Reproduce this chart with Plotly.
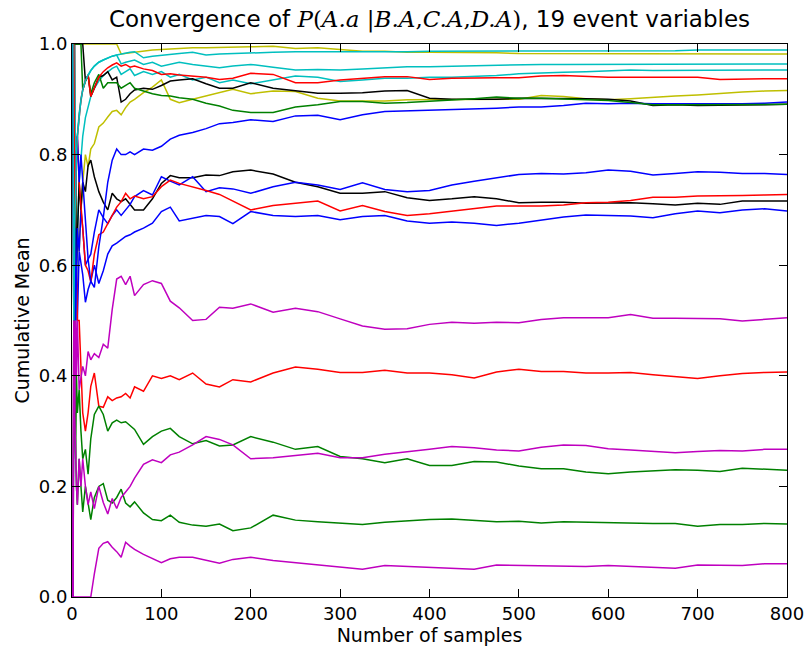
import plotly.graph_objects as go

X_SAMPLES = [1, 2, 3, 4, 5, 6, 8, 10, 12, 15,
             18, 21, 25, 30, 35, 40, 45, 50, 55, 60,
             65, 70, 80, 90, 100, 110, 120, 135, 150, 165,
             180, 200, 225, 250, 275, 300, 325, 350, 375, 400,
             425, 450, 475, 500, 525, 550, 575, 600, 625, 650,
             675, 700, 725, 750, 775, 800]

B1 = [1, 0.5, 0.667, 0.5, 0.6, 0.5, 0.625, 0.6, 0.583, 0.533,
      0.556, 0.571, 0.6, 0.567, 0.59, 0.62, 0.635, 0.64, 0.646, 0.652,
      0.655, 0.66, 0.667, 0.676, 0.697, 0.705, 0.68, 0.685, 0.69, 0.688,
      0.675, 0.697, 0.69, 0.688, 0.69, 0.682, 0.688, 0.69, 0.68, 0.676,
      0.678, 0.676, 0.672, 0.676, 0.682, 0.687, 0.691, 0.69, 0.689, 0.686,
      0.693, 0.698, 0.695, 0.7, 0.702, 0.698]
G1 = [0, 0.5, 0.333, 0.25, 0.2, 0.167, 0.25, 0.2, 0.154, 0.2,
      0.167, 0.14, 0.18, 0.2, 0.205, 0.175, 0.17, 0.18, 0.195, 0.17,
      0.163, 0.172, 0.152, 0.14, 0.138, 0.148, 0.135, 0.13, 0.128, 0.132,
      0.12, 0.125, 0.148, 0.139, 0.136, 0.134, 0.131, 0.135, 0.138, 0.14,
      0.141, 0.138, 0.136, 0.137, 0.134, 0.136, 0.135, 0.135, 0.134, 0.133,
      0.133, 0.128, 0.131, 0.131, 0.133, 0.132]
R1 = [1, 0.5, 0.667, 0.5, 0.6, 0.5, 0.5, 0.4, 0.333, 0.3,
      0.333, 0.381, 0.405, 0.345, 0.343, 0.362, 0.355, 0.36, 0.362, 0.368,
      0.36, 0.38, 0.372, 0.4, 0.395, 0.4, 0.393, 0.405, 0.385, 0.38,
      0.393, 0.389, 0.405, 0.416, 0.412, 0.406, 0.406, 0.41, 0.405, 0.405,
      0.402, 0.396, 0.407, 0.412, 0.408, 0.408, 0.405, 0.405, 0.406, 0.402,
      0.398, 0.395, 0.4, 0.404, 0.406, 0.407]
C1 = [1, 0.5, 0.333, 0.5, 0.6, 0.667, 0.75, 0.8, 0.833, 0.867,
      0.889, 0.905, 0.92, 0.933, 0.943, 0.95, 0.956, 0.96, 0.945, 0.95,
      0.955, 0.943, 0.95, 0.945, 0.95, 0.94, 0.945, 0.935, 0.94, 0.93,
      0.935, 0.928, 0.935, 0.942, 0.94, 0.932, 0.935, 0.938, 0.938, 0.94,
      0.94, 0.941, 0.943, 0.946, 0.948, 0.949, 0.95, 0.952, 0.953, 0.952,
      0.952, 0.952, 0.953, 0.953, 0.953, 0.953]
M1 = [0, 0, 0, 0, 0, 0, 0, 0, 0, 0,
      0, 0, 0.042, 0.088, 0.097, 0.1, 0.09, 0.082, 0.072, 0.099,
      0.092, 0.086, 0.077, 0.069, 0.062, 0.069, 0.072, 0.072, 0.066, 0.061,
      0.068, 0.072, 0.066, 0.062, 0.057, 0.053, 0.05, 0.057, 0.055, 0.053,
      0.052, 0.05, 0.058, 0.057, 0.056, 0.055, 0.055, 0.057, 0.055, 0.053,
      0.052, 0.058, 0.058, 0.057, 0.06, 0.06]
Y1 = [0, 0.5, 0.667, 0.75, 0.6, 0.667, 0.625, 0.7, 0.75, 0.8,
      0.778, 0.81, 0.82, 0.85, 0.857, 0.868, 0.878, 0.88, 0.872, 0.885,
      0.895, 0.9, 0.912, 0.922, 0.935, 0.9, 0.894, 0.9, 0.906, 0.912,
      0.918, 0.91, 0.915, 0.914, 0.902, 0.897, 0.897, 0.897, 0.899, 0.899,
      0.9, 0.9, 0.9, 0.9, 0.907, 0.905, 0.901, 0.899, 0.901, 0.904,
      0.906, 0.908, 0.911, 0.913, 0.915, 0.916]
K1 = [1, 0.5, 0.667, 0.75, 0.6, 0.667, 0.75, 0.7, 0.75, 0.733,
      0.78, 0.79, 0.76, 0.733, 0.714, 0.7, 0.73, 0.72, 0.715, 0.72,
      0.71, 0.7, 0.7, 0.72, 0.748, 0.762, 0.758, 0.758, 0.763, 0.762,
      0.769, 0.772, 0.765, 0.75, 0.742, 0.73, 0.73, 0.733, 0.722, 0.717,
      0.72, 0.724, 0.72, 0.713, 0.714, 0.714, 0.712, 0.713, 0.713, 0.711,
      0.709, 0.712, 0.71, 0.716, 0.716, 0.716]
B2 = [0, 0.5, 0.667, 0.5, 0.6, 0.667, 0.625, 0.7, 0.667, 0.6,
      0.611, 0.62, 0.66, 0.7, 0.686, 0.675, 0.69, 0.7, 0.69, 0.7,
      0.71, 0.724, 0.735, 0.727, 0.76, 0.752, 0.745, 0.76, 0.733, 0.74,
      0.738, 0.73, 0.742, 0.75, 0.745, 0.737, 0.749, 0.737, 0.733, 0.735,
      0.745, 0.752, 0.758, 0.764, 0.766, 0.765, 0.767, 0.772, 0.77, 0.763,
      0.766, 0.769, 0.768, 0.766, 0.766, 0.764]
G2 = [1, 0.5, 0.333, 0.25, 0.4, 0.333, 0.375, 0.3, 0.25, 0.267,
      0.222, 0.286, 0.33, 0.345, 0.33, 0.3, 0.315, 0.32, 0.315, 0.317,
      0.31, 0.303, 0.276, 0.29, 0.3, 0.305, 0.29, 0.277, 0.283, 0.273,
      0.275, 0.29, 0.28, 0.267, 0.272, 0.254, 0.25, 0.243, 0.25, 0.238,
      0.238, 0.245, 0.244, 0.237, 0.232, 0.232, 0.226, 0.223, 0.226, 0.228,
      0.23, 0.229, 0.227, 0.233, 0.231, 0.229]
R2 = [1, 1, 1, 0.75, 0.8, 0.833, 0.75, 0.7, 0.667, 0.6,
      0.59, 0.57, 0.62, 0.655, 0.66, 0.675, 0.69, 0.705, 0.715, 0.73,
      0.72, 0.725, 0.72, 0.724, 0.742, 0.754, 0.748, 0.742, 0.735, 0.728,
      0.716, 0.7, 0.708, 0.712, 0.716, 0.698, 0.708, 0.697, 0.69, 0.693,
      0.698, 0.702, 0.707, 0.707, 0.707, 0.709, 0.713, 0.714, 0.717, 0.723,
      0.723, 0.725, 0.725, 0.726, 0.727, 0.728]
C2 = [1, 1, 1, 0.75, 0.8, 0.833, 0.875, 0.9, 0.917, 0.933,
      0.944, 0.952, 0.96, 0.967, 0.971, 0.975, 0.978, 0.98, 0.964, 0.967,
      0.969, 0.971, 0.963, 0.967, 0.96, 0.964, 0.967, 0.963, 0.96, 0.957,
      0.96, 0.963, 0.958, 0.953, 0.954, 0.953, 0.955, 0.957, 0.959, 0.959,
      0.96, 0.961, 0.961, 0.962, 0.963, 0.963, 0.963, 0.963, 0.963, 0.963,
      0.963, 0.964, 0.964, 0.964, 0.964, 0.964]
M2 = [0, 0.5, 0.333, 0.25, 0.2, 0.167, 0.25, 0.2, 0.25, 0.2,
      0.167, 0.19, 0.16, 0.2, 0.171, 0.15, 0.178, 0.16, 0.18, 0.19,
      0.2, 0.215, 0.24, 0.248, 0.243, 0.257, 0.262, 0.275, 0.29, 0.285,
      0.275, 0.25, 0.252, 0.256, 0.26, 0.252, 0.252, 0.258, 0.262, 0.267,
      0.272, 0.27, 0.266, 0.264, 0.271, 0.275, 0.274, 0.268, 0.266, 0.263,
      0.261, 0.263, 0.265, 0.264, 0.267, 0.267]
Y2 = [1, 1, 1, 1, 1, 1, 1, 1, 1, 1,
      1, 1, 1, 1, 1, 1, 1, 1, 0.982, 0.983,
      0.985, 0.986, 0.988, 0.989, 0.99, 0.991, 0.992, 0.993, 0.993, 0.994,
      0.994, 0.995, 0.996, 0.992, 0.993, 0.99, 0.987, 0.987, 0.985, 0.985,
      0.985, 0.984, 0.984, 0.983, 0.983, 0.983, 0.983, 0.982, 0.982, 0.982,
      0.982, 0.982, 0.982, 0.982, 0.982, 0.982]
K2 = [1, 1, 1, 1, 1, 1, 1, 1, 1, 0.933,
      0.944, 0.905, 0.92, 0.94, 0.943, 0.95, 0.935, 0.94, 0.895, 0.9,
      0.91, 0.917, 0.92, 0.918, 0.925, 0.933, 0.935, 0.937, 0.928, 0.92,
      0.92, 0.93, 0.92, 0.915, 0.911, 0.911, 0.912, 0.915, 0.916, 0.902,
      0.9, 0.9, 0.9, 0.902, 0.902, 0.902, 0.901, 0.9, 0.897, 0.889,
      0.89, 0.889, 0.889, 0.89, 0.89, 0.891]
B3 = [1, 0.5, 0.667, 0.75, 0.8, 0.833, 0.75, 0.8, 0.75, 0.667,
      0.611, 0.571, 0.56, 0.633, 0.686, 0.75, 0.79, 0.81, 0.8, 0.8,
      0.805, 0.8, 0.81, 0.808, 0.815, 0.828, 0.835, 0.84, 0.847, 0.856,
      0.858, 0.863, 0.86, 0.87, 0.871, 0.863, 0.872, 0.878, 0.879, 0.881,
      0.881, 0.882, 0.884, 0.886, 0.886, 0.889, 0.893, 0.892, 0.893, 0.892,
      0.892, 0.892, 0.891, 0.892, 0.893, 0.895]
G3 = [1, 1, 1, 1, 1, 1, 1, 1, 0.917, 0.933,
      0.944, 0.91, 0.93, 0.945, 0.92, 0.93, 0.93, 0.93, 0.92, 0.925,
      0.93, 0.92, 0.915, 0.91, 0.907, 0.906, 0.903, 0.9, 0.893, 0.888,
      0.88, 0.876, 0.876, 0.886, 0.89, 0.896, 0.896, 0.893, 0.894, 0.896,
      0.899, 0.901, 0.904, 0.902, 0.902, 0.901, 0.9, 0.898, 0.894, 0.89,
      0.89, 0.89, 0.89, 0.891, 0.891, 0.891]
R3 = [1, 1, 0.667, 0.75, 0.8, 0.833, 0.875, 0.9, 0.917, 0.933,
      0.944, 0.905, 0.92, 0.94, 0.95, 0.957, 0.962, 0.966, 0.96, 0.963,
      0.958, 0.96, 0.955, 0.952, 0.945, 0.946, 0.944, 0.942, 0.94, 0.936,
      0.938, 0.947, 0.945, 0.93, 0.93, 0.935, 0.938, 0.941, 0.941, 0.936,
      0.938, 0.939, 0.939, 0.939, 0.942, 0.943, 0.941, 0.94, 0.94, 0.94,
      0.94, 0.94, 0.936, 0.937, 0.937, 0.937]
C3 = [1, 0.5, 0.667, 0.75, 0.8, 0.833, 0.875, 0.9, 0.917, 0.933,
      0.944, 0.952, 0.96, 0.967, 0.971, 0.975, 0.978, 0.98, 0.982, 0.983,
      0.985, 0.986, 0.975, 0.978, 0.98, 0.982, 0.983, 0.985, 0.98, 0.982,
      0.983, 0.984, 0.985, 0.986, 0.986, 0.986, 0.986, 0.985, 0.986, 0.987,
      0.987, 0.987, 0.987, 0.988, 0.988, 0.988, 0.988, 0.988, 0.988, 0.988,
      0.988, 0.989, 0.989, 0.989, 0.989, 0.989]
M3 = [0, 0.5, 0.333, 0.5, 0.4, 0.5, 0.375, 0.4, 0.417, 0.4,
      0.444, 0.429, 0.44, 0.433, 0.457, 0.45, 0.52, 0.575, 0.58, 0.565,
      0.58, 0.545, 0.565, 0.572, 0.567, 0.535, 0.523, 0.5, 0.502, 0.524,
      0.522, 0.53, 0.515, 0.522, 0.516, 0.503, 0.49, 0.484, 0.485, 0.493,
      0.497, 0.495, 0.497, 0.496, 0.502, 0.505, 0.505, 0.505, 0.511, 0.504,
      0.504, 0.503, 0.503, 0.499, 0.502, 0.505]

SERIES = [B1, G1, R1, C1, M1, Y1, K1, B2, G2, R2, C2, M2, Y2, K2, B3, G3, R3, C3, M3]
COLORS = ["#0000ff", "#008000", "#ff0000", "#00bfbf", "#bf00bf", "#bfbf00", "#000000"]

X_TICKS = [0, 100, 200, 300, 400, 500, 600, 700, 800]
Y_TICKS = [0.0, 0.2, 0.4, 0.6, 0.8, 1.0]

fig = go.Figure()
for i, ys in enumerate(SERIES):
    fig.add_trace(go.Scatter(x=X_SAMPLES, y=ys, mode="lines",
                             line=dict(color=COLORS[i % 7], width=1.5),
                             showlegend=False, hoverinfo="skip"))

FONT = "DejaVu Sans"
title_html = ("Convergence of <span style='font-family:DejaVu Serif;font-size:23px'><i>P</i>(<i>A.a</i> |"
              "<i>B.A</i>,<i>C.A</i>,<i>D.A</i>)</span>, 19 event variables")

axis_common = dict(showline=True, linecolor="black", linewidth=1, mirror="ticks",
                   ticks="inside", ticklen=8, tickcolor="black", showgrid=False,
                   zeroline=False, automargin=False,
                   tickfont=dict(family=FONT, size=18, color="black"))

fig.update_layout(
    width=806, height=646,
    margin=dict(l=72, r=19, t=44, b=49),
    paper_bgcolor="white", plot_bgcolor="white",
    title=dict(text=title_html, x=0.5, xref="paper", y=1 - 19 / 646, yref="container",
               xanchor="center", yanchor="middle",
               font=dict(family=FONT, size=23, color="black")),
    xaxis=dict(range=[0, 800], tickvals=X_TICKS,
               title=dict(text="Number of samples", standoff=3,
                          font=dict(family=FONT, size=19, color="black")),
               **axis_common),
    yaxis=dict(range=[0, 1], tickvals=Y_TICKS, tickformat=".1f",
               title=dict(text="Cumulative Mean", standoff=4,
                          font=dict(family=FONT, size=19, color="black")),
               **axis_common),
)

fig.write_html("out.html", config={"displayModeBar": False},
               post_script="document.body.style.margin='0px';")
